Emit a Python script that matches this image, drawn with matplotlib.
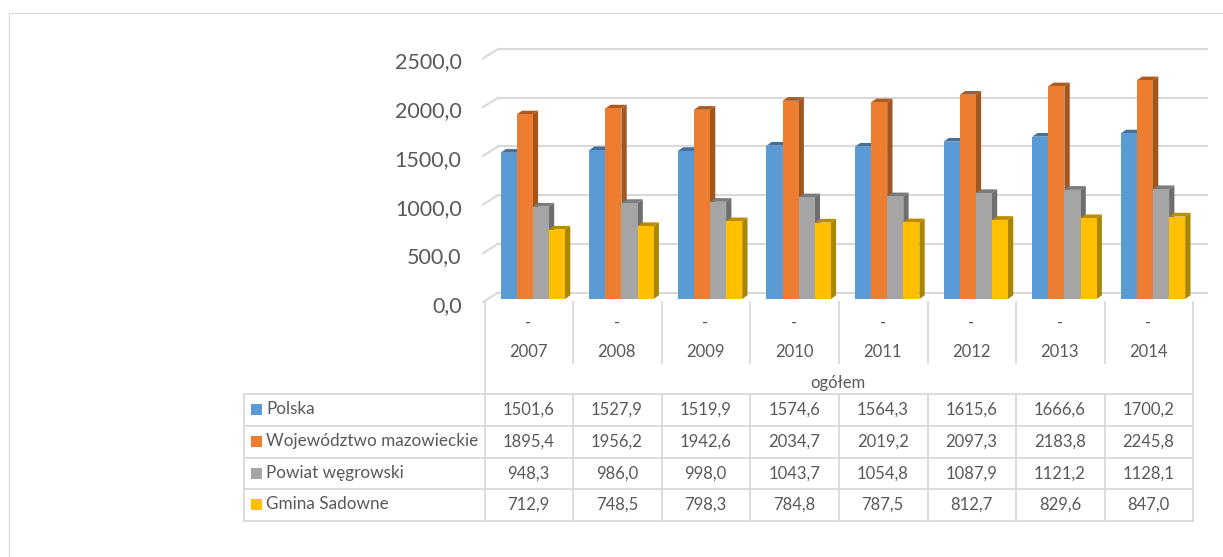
import matplotlib
matplotlib.use('Agg')
import matplotlib.pyplot as plt
from matplotlib.patches import Polygon, Rectangle
from matplotlib.transforms import ScaledTranslation

years = ['2007', '2008', '2009', '2010', '2011', '2012', '2013', '2014']
names = ['Polska', 'Województwo mazowieckie', 'Powiat węgrowski', 'Gmina Sadowne']
polska = [1501.6, 1527.9, 1519.9, 1574.6, 1564.3, 1615.6, 1666.6, 1700.2]
mazowieckie = [1895.4, 1956.2, 1942.6, 2034.7, 2019.2, 2097.3, 2183.8, 2245.8]
wegrowski = [948.3, 986.0, 998.0, 1043.7, 1054.8, 1087.9, 1121.2, 1128.1]
sadowne = [712.9, 748.5, 798.3, 784.8, 787.5, 812.7, 829.6, 847.0]
y_ticks = [0, 500, 1000, 1500, 2000, 2500]

series = [polska, mazowieckie, wegrowski, sadowne]
front = ['#5B9BD5', '#ED7D31', '#A5A5A5', '#FFC000']
top = ['#41719C', '#AE5A21', '#7B7B7B', '#BC8C00']
side = ['#3E6A94', '#A0561F', '#6E6E6E', '#A98600']
grid = '#D9D9D9'
txt = '#595959'

W, H = 1223, 557
plt.rcParams['font.family'] = ['Lato', 'DejaVu Sans']
fig = plt.figure(figsize=(W / 100, H / 100), dpi=100)

# overlay in pixel coordinates for frame and table
bg = fig.add_axes([0, 0, 1, 1])
bg.set_xlim(0, W)
bg.set_ylim(H, 0)
bg.axis('off')

col0 = 484.5
col_w = 88.6
n = len(years)
col_end = col0 + n * col_w
rows = [393.5, 425.5, 457.5, 489, 520.5]
fs = 12

# outer border
bg.plot([9, 9], [H, 13], color='#D9D9D9', lw=0.8)
bg.plot([9, W], [13, 13], color='#D9D9D9', lw=0.8)

for yy in rows:
    bg.plot([244, col_end], [yy, yy], color=grid, lw=1.3)
bg.plot([244, 244], [rows[0], rows[-1]], color=grid, lw=1.3)
for i in range(n + 1):
    x = col0 + i * col_w
    bg.plot([x, x], [rows[0], rows[-1]], color=grid, lw=1.3)
    if i in (0, n):
        bg.plot([x, x], [302, rows[0]], color=grid, lw=1.3)
    else:
        bg.plot([x, x], [302, 363], color=grid, lw=1.3)

for i, yr in enumerate(years):
    cx = col0 + (i + 0.5) * col_w - 0.5
    bg.text(cx, 323, '-', ha='center', va='center', fontsize=fs, color=txt)
    bg.text(cx, 352, yr, ha='center', va='center', fontsize=fs, color=txt)
bg.text(col0 + n / 2 * col_w - 1, 383, 'ogółem', ha='center', va='center', fontsize=fs, color=txt)

for r, (name, vals) in enumerate(zip(names, series)):
    cy = (rows[r] + rows[r + 1]) / 2
    bg.add_patch(Rectangle((251, cy - 5.5), 11, 11, color=front[r], lw=0))
    bg.text(266, cy - 0.5, name, ha='left', va='center', fontsize=12.35, color=txt)
    for i, v in enumerate(vals):
        label = f'{v:.1f}'.replace('.', ',')
        bg.text(col0 + (i + 0.5) * col_w - 0.5, cy, label, ha='center', va='center', fontsize=fs, color=txt)

# chart axes: y=0 at pixel 299, 2500 at pixel 55.5
y0_px, y_top_px = 299.0, 55.5
ax = fig.add_axes([col0 / W, 1 - y0_px / H, n * col_w / W, (y0_px - y_top_px) / H])
ax.set_xlim(-0.5, n - 0.5)
ax.set_ylim(0, 2500)
ax.patch.set_alpha(0)
for s in ax.spines.values():
    s.set_visible(False)
ax.set_xticks([])
ax.set_yticks(y_ticks)
ax.set_yticklabels([f'{t:.1f}'.replace('.', ',') for t in y_ticks], fontsize=15.5, color=txt)
ax.tick_params(axis='y', length=0, pad=16.5)
shift = ScaledTranslation(0, -5 / 100, fig.dpi_scale_trans)
for lab in ax.get_yticklabels():
    lab.set_transform(lab.get_transform() + shift)

px = 1 / col_w
py = 2500 / (y0_px - y_top_px)

# back wall lines and left wall diagonals
for t in y_ticks:
    yb = t + 6.5 * py
    ax.plot([-0.5 + 13.5 * px, n - 0.5 + 13.5 * px], [yb, yb], color=grid, lw=1.5, clip_on=False, zorder=1)
    ax.plot([-0.5 - 1.5 * px, -0.5 + 13.5 * px], [t - 3 * py, yb], color=grid, lw=1.5, clip_on=False, zorder=1)

bw = 16.1 * px
dx = 5.3 * px
dy = 3.7 * py
offset = 4 * px
for s, vals in enumerate(series):
    xs = [i + offset + (s - 1.5) * bw for i in range(n)]
    for x, v in zip(xs, vals):
        r = x + bw / 2
        l = x - bw / 2
        ax.add_patch(Polygon([(r, 0), (r + dx, dy), (r + dx, v + dy), (r, v)], color=side[s], lw=0, zorder=2 + s, clip_on=False))
        ax.add_patch(Polygon([(l, v), (l + dx, v + dy), (r + dx, v + dy), (r, v)], color=top[s], lw=0, zorder=2 + s, clip_on=False))
    ax.bar(xs, vals, width=bw, color=front[s], lw=0, zorder=2 + s + 0.5)

fig.savefig('out.png', dpi=100)
